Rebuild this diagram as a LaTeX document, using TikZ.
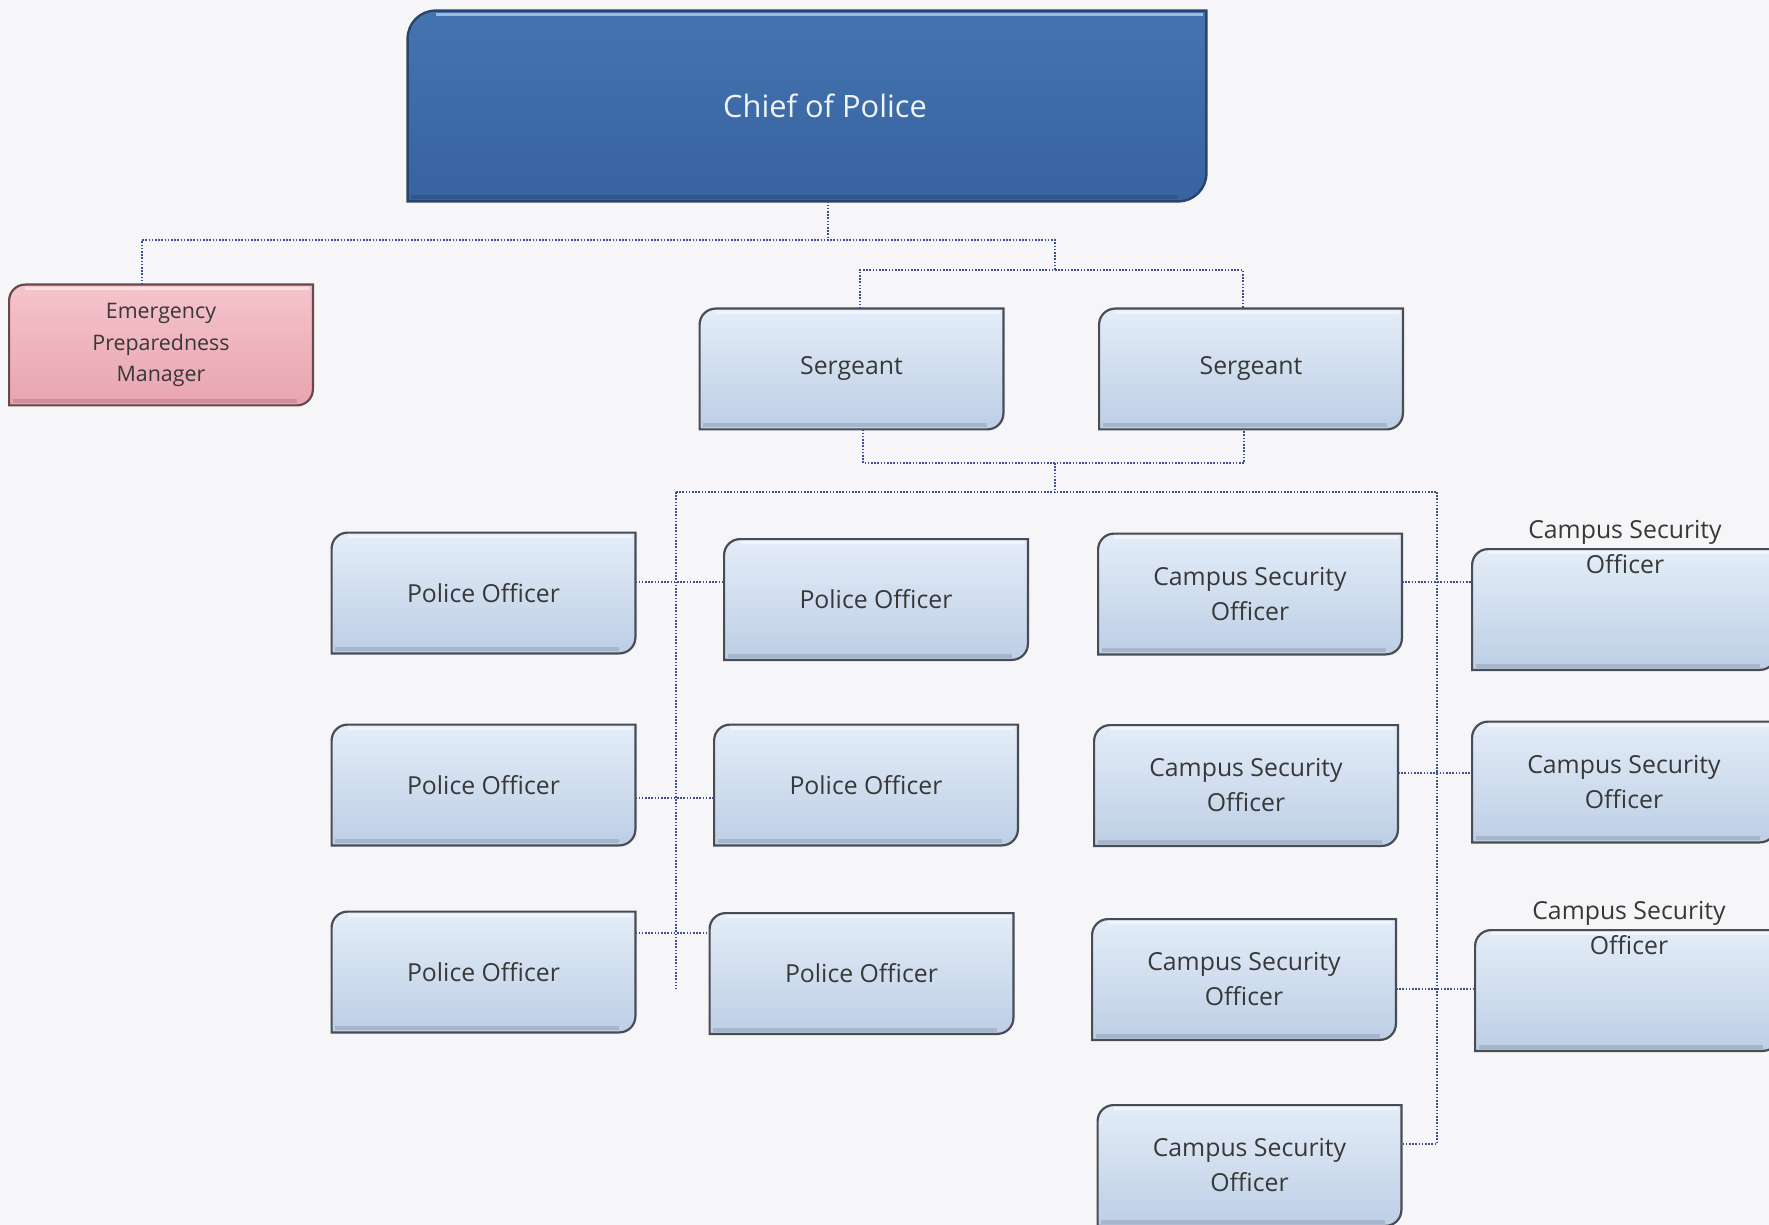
\documentclass[tikz,border=0pt]{standalone}
\usepackage{fontspec}
\setmainfont{Open Sans}
\usetikzlibrary{calc}
\pgfdeclarelayer{ground}
\pgfdeclarelayer{boxes}
\pgfsetlayers{ground,boxes,main}

\definecolor{pagebg}{HTML}{F6F6F8}
\definecolor{unittop}{HTML}{E4EDF8}
\definecolor{unitmid}{HTML}{D6E3F3}
\definecolor{unitbot}{HTML}{BDCEE5}
\definecolor{unitrim}{HTML}{484C56}
\definecolor{chieftop}{HTML}{4474AF}
\definecolor{chiefbot}{HTML}{3763A0}
\definecolor{chiefrim}{HTML}{28456E}
\definecolor{epmtop}{HTML}{F6C4CB}
\definecolor{epmbot}{HTML}{E8A5AF}
\definecolor{epmrim}{HTML}{6A474D}
\definecolor{linkc}{HTML}{3F4E8C}
\definecolor{labelc}{HTML}{383838}

\tikzset{
  x=0.5pt, y=-0.5pt,
  unit/.style={minimum width=151.5pt, minimum height=60pt, inner sep=0pt,
    align=center, text=labelc, font=\fontsize{12.4}{17.5}\selectfont},
  caption/.style={inner sep=0pt, align=center, text=labelc,
    font=\fontsize{12.4}{17.5}\selectfont},
  conn/.style={draw=linkc, line width=0.8pt, dash pattern=on 0.8pt off 0.8pt},
  plainface/.style={draw=unitrim, line width=1.1pt,
    top color=unittop, middle color=unitmid, bottom color=unitbot},
  chiefface/.style={draw=chiefrim, line width=1.2pt,
    top color=chieftop, bottom color=chiefbot},
  epmface/.style={draw=epmrim, line width=1.1pt,
    top color=epmtop, bottom color=epmbot},
  softshade/.style={fill=black, opacity=0.07, draw=none},
}

% outline with rounded top-left and bottom-right corners around a node
\newcommand\diagonalpath[3]{%
  \path[#3] ($(#1.north west)+(0pt,-#2)$) arc[start angle=180, end angle=90, radius=#2]
    -- (#1.north east) -- ($(#1.south east)+(0pt,#2)$)
    arc[start angle=0, end angle=-90, radius=#2] -- (#1.south west) -- cycle;}

% framed face with a soft drop shadow and a light top rim
\newcommand\diagonalbox[3]{%
  \begin{scope}[shift={(1.2pt,-2.6pt)}]\diagonalpath{#1}{#2}{softshade}\end{scope}
  \begin{scope}[shift={(0.8pt,-1.6pt)}]\diagonalpath{#1}{#2}{softshade}\end{scope}
  \begin{scope}[shift={(0.4pt,-0.8pt)}]\diagonalpath{#1}{#2}{softshade}\end{scope}
  \diagonalpath{#1}{#2}{#3}
  \draw[white, opacity=0.5, line width=1.4pt]
    ($(#1.north west)+(#2,-1.8pt)$) -- ($(#1.north east)+(-1.8pt,-1.8pt)$);
  \draw[black, opacity=0.12, line width=2pt]
    ($(#1.south west)+(1.8pt,2pt)$) -- ($(#1.south east)+(-#2,2pt)$);
}

\begin{document}
\begin{tikzpicture}
\begin{pgfonlayer}{ground}
  \fill[pagebg] (0,0) rectangle (1769,1225);
\end{pgfonlayer}
\useasboundingbox (0,0) rectangle (1769,1225);

% top of the chart
\node[unit, minimum width=399pt, minimum height=95pt, text=white!92!chieftop,
      font=\fontsize{15.4}{19}\selectfont] (chief) at (807,106)
      {\hspace*{18pt}Chief of Police};
\node[unit, font=\fontsize{10.7}{15.8}\selectfont] (epm) at (161,345)
      {Emergency\\Preparedness\\Manager};
\node[unit] (sg1) at (851.5,369) {Sergeant};
\node[unit] (sg2) at (1251,369) {Sergeant};

% police officers
\node[unit] (po11) at (483.5,593) {Police Officer};
\node[unit] (po21) at (483.5,785) {Police Officer};
\node[unit] (po31) at (483.5,972) {Police Officer};
\node[unit] (po12) at (876,599.5) {Police Officer};
\node[unit] (po22) at (866,785) {Police Officer};
\node[unit] (po32) at (861.5,973.5) {Police Officer};

% campus security officers
\node[unit] (cs11) at (1250,594) {Campus Security\\Officer};
\node[unit] (cs21) at (1246,785.5) {Campus Security\\Officer};
\node[unit] (cs31) at (1244,979.5) {Campus Security\\Officer};
\node[unit] (cs41) at (1249.5,1165.5) {Campus Security\\Officer};
\node[unit] (cs12) at (1624,609.5) {};
\node[caption] (cs12t) at (1625,547) {Campus Security\\Officer};
\node[unit] (cs22) at (1624,782) {Campus Security\\Officer};
\node[unit] (cs32) at (1627,990.5) {};
\node[caption] (cs32t) at (1629,928) {Campus Security\\Officer};

% box faces
\begin{pgfonlayer}{boxes}
  \diagonalbox{chief}{14pt}{chiefface}
  \diagonalbox{epm}{8pt}{epmface}
  \foreach \n in {sg1,sg2,po11,po21,po31,po12,po22,po32,
                  cs11,cs21,cs31,cs41,cs12,cs22,cs32}
    {\diagonalbox{\n}{8pt}{plainface}}
\end{pgfonlayer}

% junction points of the dotted lines
\coordinate (a0) at (828,240);
\coordinate (aL) at (142,240);
\coordinate (aR) at (1055,240);
\coordinate (b0) at (1055,270);
\coordinate (bL) at (860,270);
\coordinate (bR) at (1243,270);
\coordinate (c1) at (863,463);
\coordinate (c2) at (1244,463);
\coordinate (c0) at (1055,463);
\coordinate (d0) at (1055,492);
\coordinate (dL) at (676,492);
\coordinate (dR) at (1437,492);
\coordinate (eL) at (676,989);
\coordinate (eR) at (1437,1144);
\coordinate (p1) at (676,582);
\coordinate (p2) at (676,798);
\coordinate (p3) at (676,933);
\coordinate (q1) at (1437,582);
\coordinate (q2) at (1437,773);
\coordinate (q3) at (1437,989);

% chief to manager and sergeants
\draw[conn] (chief.south -| a0) -- (a0);
\draw[conn] (epm.north -| aL) -- (aL) -- (aR) -- (b0);
\draw[conn] (sg1.north -| bL) -- (bL) -- (bR) -- (sg2.north -| bR);

% sergeants to officers
\draw[conn] (sg1.south -| c1) -- (c1) -- (c2) -- (sg2.south -| c2);
\draw[conn] (c0) -- (d0);
\draw[conn] (dL) -- (dR);
\draw[conn] (dL) -- (eL);
\draw[conn] (dR) -- (eR) -- (cs41.east |- eR);

% officer rows
\draw[conn] (po11.east |- p1) -- (po12.west |- p1);
\draw[conn] (po21.east |- p2) -- (po22.west |- p2);
\draw[conn] (po31.east |- p3) -- (po32.west |- p3);
\draw[conn] (cs11.east |- q1) -- (cs12.west |- q1);
\draw[conn] (cs21.east |- q2) -- (cs22.west |- q2);
\draw[conn] (cs31.east |- q3) -- (cs32.west |- q3);
\end{tikzpicture}
\end{document}
